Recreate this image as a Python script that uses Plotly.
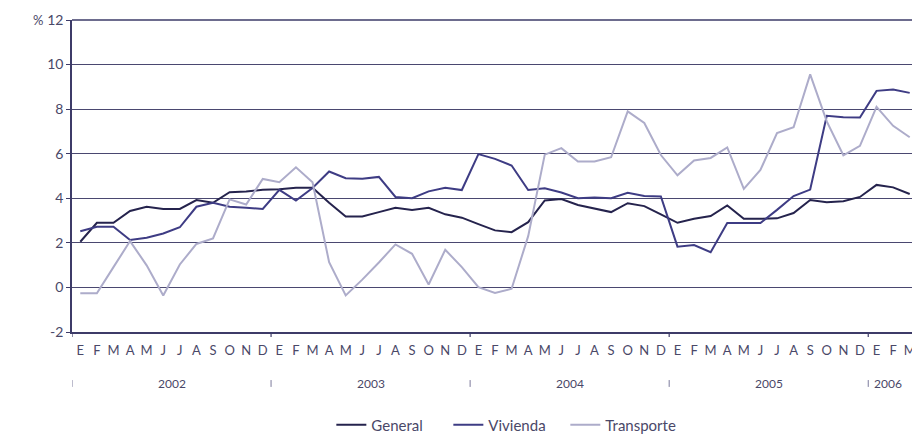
import plotly.graph_objects as go

years = [2002, 2003, 2004, 2005, 2006]
month_letters = ["E", "F", "M", "A", "M", "J", "J", "A", "S", "O", "N", "D"]
months_2006 = 3

general = [2.05, 2.9, 2.9, 3.43, 3.62, 3.52, 3.52, 3.92, 3.8, 4.27, 4.3, 4.38,
           4.4, 4.47, 4.47, 3.8, 3.18, 3.18, 3.38, 3.57, 3.48, 3.57, 3.28, 3.13,
           2.84, 2.56, 2.48, 2.93, 3.9, 3.97, 3.7, 3.55, 3.38, 3.78, 3.65, 3.28,
           2.9, 3.08, 3.2, 3.68, 3.08, 3.08, 3.1, 3.34, 3.92, 3.82, 3.87, 4.06,
           4.6, 4.49, 4.19]
vivienda = [2.52, 2.72, 2.72, 2.13, 2.23, 2.42, 2.7, 3.62, 3.8, 3.62, 3.58, 3.52,
            4.38, 3.9, 4.46, 5.2, 4.9, 4.88, 4.96, 4.06, 4.0, 4.31, 4.47, 4.37,
            5.98, 5.77, 5.47, 4.37, 4.45, 4.26, 4.0, 4.04, 4.0, 4.25, 4.1, 4.08,
            1.83, 1.9, 1.58, 2.89, 2.89, 2.89, 3.48, 4.1, 4.39, 7.7, 7.64, 7.62,
            8.82, 8.88, 8.73]
transporte = [-0.26, -0.26, 0.91, 2.08, 0.99, -0.36, 1.03, 1.95, 2.2, 3.95, 3.72, 4.87,
              4.72, 5.39, 4.72, 1.13, -0.36, 0.35, 1.12, 1.93, 1.51, 0.13, 1.69, 0.91,
              0.01, -0.25, -0.06, 2.3, 5.96, 6.25, 5.65, 5.65, 5.84, 7.9, 7.38, 5.94,
              5.03, 5.7, 5.81, 6.28, 4.42, 5.27, 6.93, 7.19, 9.56, 7.45, 5.93, 6.35,
              8.1, 7.25, 6.74]
y_ticks = [-2, 0, 2, 4, 6, 8, 10, 12]

# build the category keys and tick texts
periods, letters, period_year = [], [], []
for yr in years:
    nm = months_2006 if yr == 2006 else 12
    for m in range(nm):
        periods.append(f"{yr}-{m + 1:02d}")
        letters.append(month_letters[m])
        period_year.append(yr)

TXT = "#4a4868"
FONT = "Lato, 'Open Sans', sans-serif"

fig = go.Figure()
series = [("General", general, "#25234d", 2.0),
          ("Vivienda", vivienda, "#3e3c84", 2.0),
          ("Transporte", transporte, "#adacca", 2.0)]
for name, vals, col, w in series:
    fig.add_trace(go.Scatter(x=periods, y=vals, mode="lines", name=name,
                             line=dict(color=col, width=w)))

# page body has an 8px margin: figure is 912x432 so that it fits the 920x440 window
fig.update_layout(
    width=912, height=432,
    margin=dict(l=64, r=2, t=12, b=108, autoexpand=False),
    paper_bgcolor="white", plot_bgcolor="white",
    font=dict(family=FONT, color=TXT, size=13),
    showlegend=True,
    legend=dict(orientation="h", x=0.514, xanchor="center", y=-0.298, yanchor="middle",
                font=dict(size=15, color=TXT), traceorder="normal",
                entrywidth=72, entrywidthmode="pixels",
                itemwidth=30, tracegroupgap=0),
)

fig.update_xaxes(
    type="category", categoryorder="array", categoryarray=periods,
    range=[-0.5, len(periods) - 0.5], automargin=False,
    tickmode="array", tickvals=periods, ticktext=letters,
    ticks="", showgrid=False, zeroline=False, ticklabelstandoff=6,
    showline=True, linecolor="#3d3b68", linewidth=1.5, mirror=False,
    tickfont=dict(size=13, color=TXT), tickangle=0,
)
fig.update_yaxes(
    range=[-2, 12], tickmode="array", tickvals=y_ticks, automargin=False,
    ticktext=[str(v) for v in y_ticks],
    showgrid=True, gridcolor="#4a4870", gridwidth=1.2,
    zeroline=False, showline=True, linecolor="#3d3b68", linewidth=1.5,
    ticks="outside", ticklen=4, tickcolor="#3d3b68",
    tickfont=dict(size=14, color=TXT),
)

# right border and top line
fig.add_shape(type="line", xref="paper", yref="paper", x0=0.999, x1=0.999, y0=0, y1=1,
              line=dict(color="#3d3b68", width=1.5))
fig.add_shape(type="line", xref="paper", yref="paper", x0=0, x1=1, y0=1, y1=1,
              line=dict(color="#3d3b68", width=1.5))

# year boundary ticks & year labels
bounds = [i - 0.5 for i in range(len(periods)) if i == 0 or period_year[i] != period_year[i - 1]]
bounds.append(len(periods) - 0.5)
for b in bounds[:-1]:
    fig.add_shape(type="line", xref="x", yref="paper", x0=b, x1=b, y0=0, y1=-0.016,
                  line=dict(color="#3d3b68", width=1.2))
for b in bounds:
    fig.add_shape(type="line", xref="x", yref="paper", x0=b, x1=b, y0=-0.154, y1=-0.176,
                  line=dict(color="#7c7a9c", width=1))
for k, yr in enumerate(years):
    mid = (bounds[k] + bounds[k + 1]) / 2
    if yr == 2006:
        mid -= 0.3
    fig.add_annotation(x=mid, xref="x", y=-0.165, yref="paper", text=str(yr),
                       showarrow=False, font=dict(size=12, color=TXT),
                       xanchor="center", yanchor="middle")

fig.add_annotation(x=-0.032, xref="paper", y=12, yref="y", text="%",
                   showarrow=False, font=dict(size=13, color=TXT),
                   xanchor="right", yanchor="middle")

fig.write_html("out.html")
